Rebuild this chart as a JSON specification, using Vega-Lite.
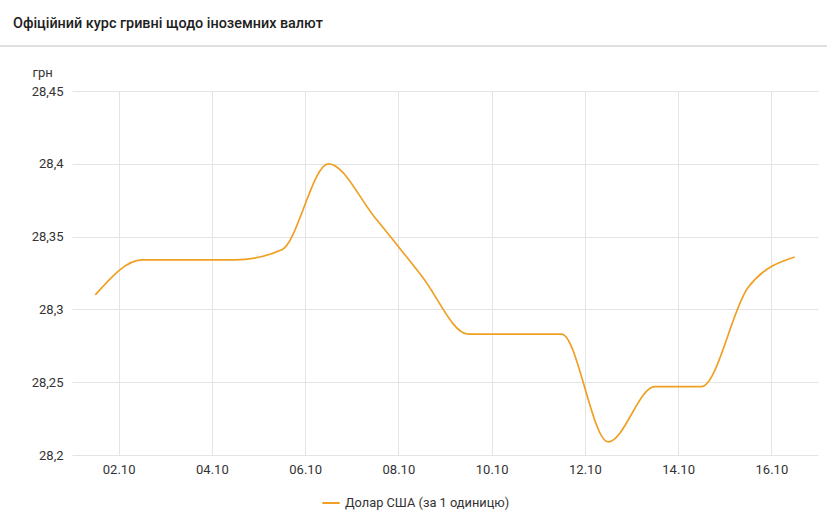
{
  "$schema": "https://vega.github.io/schema/vega-lite/v6.json",
  "width": 746,
  "height": 364,
  "autosize": "none",
  "padding": {"left": 72, "top": 91, "right": 9, "bottom": 71},
  "background": "white",
  "title": {
    "text": "Офіційний курс гривні щодо іноземних валют",
    "anchor": "start",
    "frame": "group",
    "dx": -59,
    "offset": 3,
    "baseline": "alphabetic",
    "font": "Roboto",
    "fontSize": 14.4,
    "fontWeight": 500,
    "color": "#212121"
  },
  "config": {
    "view": {"stroke": null},
    "locale": {"number": {"decimal": ",", "thousands": " ", "grouping": [3], "currency": ["", " грн"]}}
  },
  "datasets": {
    "rates": [
      {"date": "2021-10-01T12:00:00Z", "rate": 28.31, "series": "Долар США (за 1 одиницю)"},
      {"date": "2021-10-02T12:00:00Z", "rate": 28.334, "series": "Долар США (за 1 одиницю)"},
      {"date": "2021-10-03T12:00:00Z", "rate": 28.334, "series": "Долар США (за 1 одиницю)"},
      {"date": "2021-10-04T12:00:00Z", "rate": 28.334, "series": "Долар США (за 1 одиницю)"},
      {"date": "2021-10-05T12:00:00Z", "rate": 28.341, "series": "Долар США (за 1 одиницю)"},
      {"date": "2021-10-06T12:00:00Z", "rate": 28.4, "series": "Долар США (за 1 одиницю)"},
      {"date": "2021-10-07T12:00:00Z", "rate": 28.363, "series": "Долар США (за 1 одиницю)"},
      {"date": "2021-10-08T12:00:00Z", "rate": 28.323, "series": "Долар США (за 1 одиницю)"},
      {"date": "2021-10-09T12:00:00Z", "rate": 28.283, "series": "Долар США (за 1 одиницю)"},
      {"date": "2021-10-10T12:00:00Z", "rate": 28.283, "series": "Долар США (за 1 одиницю)"},
      {"date": "2021-10-11T12:00:00Z", "rate": 28.283, "series": "Долар США (за 1 одиницю)"},
      {"date": "2021-10-12T12:00:00Z", "rate": 28.209, "series": "Долар США (за 1 одиницю)"},
      {"date": "2021-10-13T12:00:00Z", "rate": 28.247, "series": "Долар США (за 1 одиницю)"},
      {"date": "2021-10-14T12:00:00Z", "rate": 28.247, "series": "Долар США (за 1 одиницю)"},
      {"date": "2021-10-15T12:00:00Z", "rate": 28.315, "series": "Долар США (за 1 одиницю)"},
      {"date": "2021-10-16T12:00:00Z", "rate": 28.336, "series": "Долар США (за 1 одиницю)"}
    ],
    "header": [
      {"from": "2021-09-29T00:00:00Z", "to": "2021-10-19T00:00:00Z", "level": 28.4809}
    ]
  },
  "layer": [
    {
      "data": {"name": "rates"},
      "mark": {"type": "line", "interpolate": "monotone", "strokeWidth": 1.7},
      "encoding": {
        "x": {
          "field": "date",
          "type": "temporal",
          "scale": {"type": "utc", "domain": ["2021-10-01T00:00:00Z", "2021-10-17T00:00:00Z"]},
          "axis": {
            "title": null,
            "labelExpr": "utcFormat(datum.value, '%d.%m')",
            "values": ["2021-10-02T00:00:00Z", "2021-10-04T00:00:00Z", "2021-10-06T00:00:00Z", "2021-10-08T00:00:00Z", "2021-10-10T00:00:00Z", "2021-10-12T00:00:00Z", "2021-10-14T00:00:00Z", "2021-10-16T00:00:00Z"],
            "domain": false,
            "ticks": false,
            "grid": true,
            "gridColor": "#e4e4e4",
            "labelFont": "Roboto",
            "labelFontSize": 13,
            "labelColor": "#333333",
            "labelPadding": 8
          }
        },
        "y": {
          "field": "rate",
          "type": "quantitative",
          "scale": {"domain": [28.2, 28.45]},
          "axis": {
            "title": "грн",
            "titleAngle": 0,
            "titleAlign": "left",
            "titleBaseline": "alphabetic",
            "titleX": -40,
            "titleY": -15,
            "titleFont": "Roboto",
            "titleFontSize": 13,
            "titleFontWeight": "normal",
            "titleColor": "#333333",
            "values": [28.2, 28.25, 28.3, 28.35, 28.4, 28.45],
            "format": "~r",
            "domain": false,
            "ticks": false,
            "grid": true,
            "gridColor": "#e4e4e4",
            "labelFont": "Roboto",
            "labelFontSize": 13,
            "labelColor": "#333333",
            "labelPadding": 9
          }
        },
        "color": {
          "field": "series",
          "type": "nominal",
          "scale": {"range": ["#efa023"]},
          "legend": {
            "title": null,
            "orient": "none",
            "legendX": 249,
            "legendY": 402,
            "symbolType": "stroke",
            "symbolSize": 300,
            "symbolStrokeWidth": 2,
            "labelFont": "Roboto",
            "labelFontSize": 12.8,
            "labelColor": "#333333",
            "labelLimit": 300
          }
        }
      }
    },
    {
      "data": {"name": "header"},
      "mark": {"type": "rule", "color": "#e0e0e0", "strokeWidth": 2, "clip": false},
      "encoding": {
        "x": {"field": "from", "type": "temporal", "scale": {"type": "utc", "domain": ["2021-10-01T00:00:00Z", "2021-10-17T00:00:00Z"]}},
        "x2": {"field": "to"},
        "y": {"field": "level", "type": "quantitative", "scale": {"domain": [28.2, 28.45]}}
      }
    }
  ]
}
